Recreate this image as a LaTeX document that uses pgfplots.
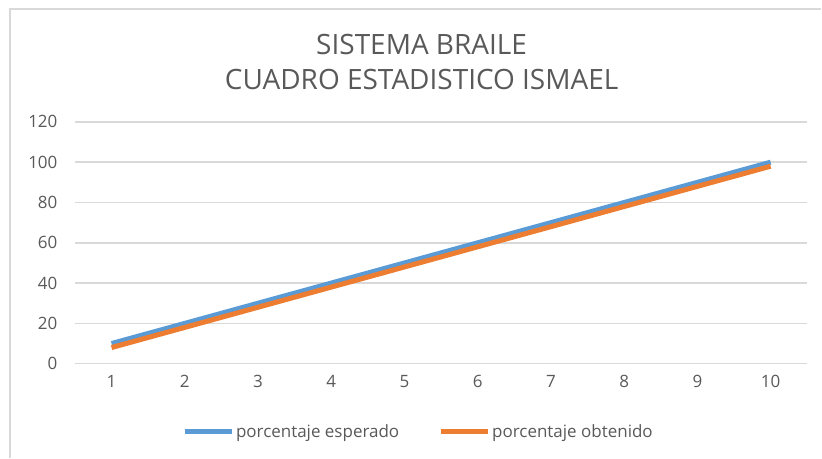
\documentclass[border=0pt]{standalone}
\usepackage{pgfplots}
\pgfplotsset{compat=1.18}
\usepackage{fontspec}
\setmainfont{Open Sans}
\definecolor{sblue}{HTML}{5B9BD5}
\definecolor{sorange}{HTML}{ED7D31}
\definecolor{gridc}{HTML}{D9D9D9}
\definecolor{txt}{HTML}{595959}
\begin{document}
\begin{tikzpicture}[x=1pt,y=1pt]
\path (0,0) rectangle (822,458);
\draw[gridc, line width=1.5pt] (10,0) -- (10,449) -- (822,449);
\node[txt, font=\fontsize{28}{32}\selectfont] at (422,413) {SISTEMA BRAILE};
\node[txt, font=\fontsize{28}{32}\selectfont] at (422,378) {CUADRO ESTADISTICO ISMAEL};
\begin{axis}[
  at={(75pt,94pt)}, anchor=south west,
  scale only axis, width=733pt, height=242pt,
  xmin=0.5, xmax=10.5, ymin=0, ymax=120,
  xtick={1,...,10}, ytick={0,20,...,120},
  axis line style={draw=none},
  major tick length=0pt,
  ymajorgrids, grid style={gridc, line width=1.5pt},
  tick label style={txt, font=\fontsize{17}{20}\selectfont},
  /pgf/number format/assume math mode=true,
  yticklabel style={xshift=-14pt},
  xticklabel style={yshift=-8pt},
  legend columns=2,
  legend style={at={(axis description cs:0.469,-0.281)}, anchor=center, draw=none, fill=none,
    font=\fontsize{17}{20}\selectfont, text=txt,
    /tikz/every even column/.append style={column sep=37pt},
    nodes={inner sep=2pt}},
  legend image code/.code={\draw[#1] (0pt,0pt) -- (47pt,0pt);},
]
\addplot[sblue, line width=5pt] coordinates {(1,10) (2,20) (3,30) (4,40) (5,50) (6,60) (7,70) (8,80) (9,90) (10,100)};
\addlegendentry{porcentaje esperado}
\addplot[sorange, line width=5pt] coordinates {(1,8) (2,18) (3,28) (4,38) (5,48) (6,58) (7,68) (8,78) (9,88) (10,98)};
\addlegendentry{porcentaje obtenido}
\end{axis}
\end{tikzpicture}
\end{document}
